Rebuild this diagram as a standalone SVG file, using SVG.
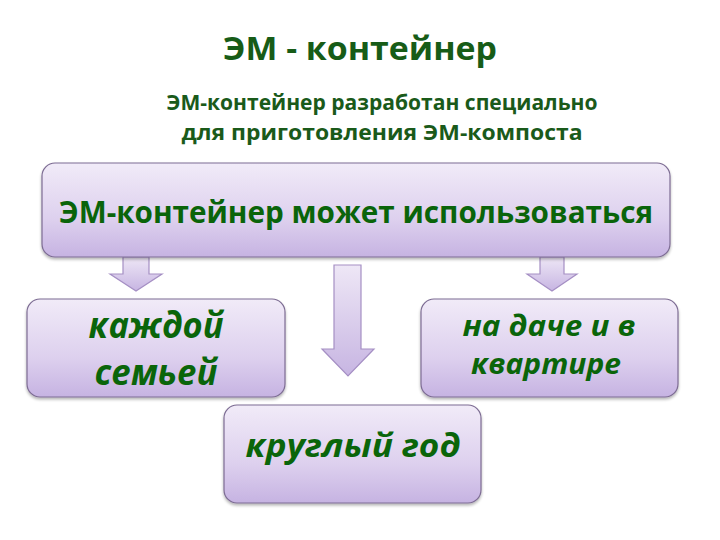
<svg xmlns="http://www.w3.org/2000/svg" width="720" height="540" viewBox="0 0 720 540">
<defs>
<linearGradient id="boxg" x1="0" y1="0" x2="0" y2="1">
<stop offset="0" stop-color="#f1ebf8"/>
<stop offset="0.6" stop-color="#ddd0ee"/>
<stop offset="1" stop-color="#c6b3e2"/>
</linearGradient>
<linearGradient id="arrg" x1="0" y1="0" x2="0" y2="1">
<stop offset="0" stop-color="#eee7f6"/>
<stop offset="1" stop-color="#c7b5e2"/>
</linearGradient>
<filter id="sh" x="-5%" y="-10%" width="110%" height="125%">
<feGaussianBlur in="SourceAlpha" stdDeviation="1.5"/>
<feOffset dx="0" dy="1.5" result="b"/>
<feComponentTransfer><feFuncA type="linear" slope="0.3"/></feComponentTransfer>
<feMerge><feMergeNode/><feMergeNode in="SourceGraphic"/></feMerge>
</filter>
</defs>
<style>
.box{fill:url(#boxg);stroke:#7d6c93;stroke-width:1.2;filter:url(#sh)}
.arr{fill:url(#arrg);stroke:#a58fc4;stroke-width:1.2}
.t{font-family:"Open Sans","Liberation Sans",sans-serif;font-weight:bold;text-anchor:middle}
.h{fill:#175c17;font-size:32px}
.s{fill:#1a5a1a;font-size:22px}
.m{fill:#0a640a;font-size:30px}
.i{fill:#0a650a;font-style:italic}
.il{font-size:36px}
.ir{font-size:29px}
.ib{font-size:32px}
</style>
<rect width="720" height="540" fill="#ffffff"/>
<g id="title">
<text class="t h" x="360" y="60" textLength="274" lengthAdjust="spacingAndGlyphs">ЭМ - контейнер</text>
</g>
<g id="subtitle">
<text class="t s" x="382" y="110" textLength="431" lengthAdjust="spacingAndGlyphs">ЭМ-контейнер разработан специально</text>
<text class="t s" x="382" y="140" textLength="401" lengthAdjust="spacingAndGlyphs">для приготовления ЭМ-компоста</text>
</g>
<g id="connectors">
<path class="arr" d="M123,257 L149,257 L149,274 L162,274 L136,291 L110,274 L123,274 Z"/>
<path class="arr" d="M334,265 L361,265 L361,349 L374,349 L348,376 L322,349 L334,349 Z"/>
<path class="arr" d="M540,257 L564,257 L564,274 L577,274 L552,291 L527,274 L540,274 Z"/>
</g>
<g id="main">
<rect class="box" x="42" y="163" width="628" height="94" rx="13"/>
<text class="t m" x="356" y="223" textLength="594" lengthAdjust="spacingAndGlyphs">ЭМ-контейнер может использоваться</text>
</g>
<g id="left">
<rect class="box" x="27" y="299" width="258" height="98" rx="13"/>
<text class="t i il" x="156" y="338" textLength="135" lengthAdjust="spacingAndGlyphs">каждой</text>
<text class="t i il" x="156" y="385" textLength="123" lengthAdjust="spacingAndGlyphs">семьей</text>
</g>
<g id="right">
<rect class="box" x="421" y="299" width="257" height="98" rx="13"/>
<text class="t i ir" x="549" y="336" textLength="173" lengthAdjust="spacingAndGlyphs">на даче и в</text>
<text class="t i ir" x="546" y="374" textLength="150" lengthAdjust="spacingAndGlyphs">квартире</text>
</g>
<g id="bottom">
<rect class="box" x="224" y="405" width="257" height="98" rx="13"/>
<text class="t i ib" x="353" y="457" textLength="215" lengthAdjust="spacingAndGlyphs">круглый год</text>
</g>
</svg>
